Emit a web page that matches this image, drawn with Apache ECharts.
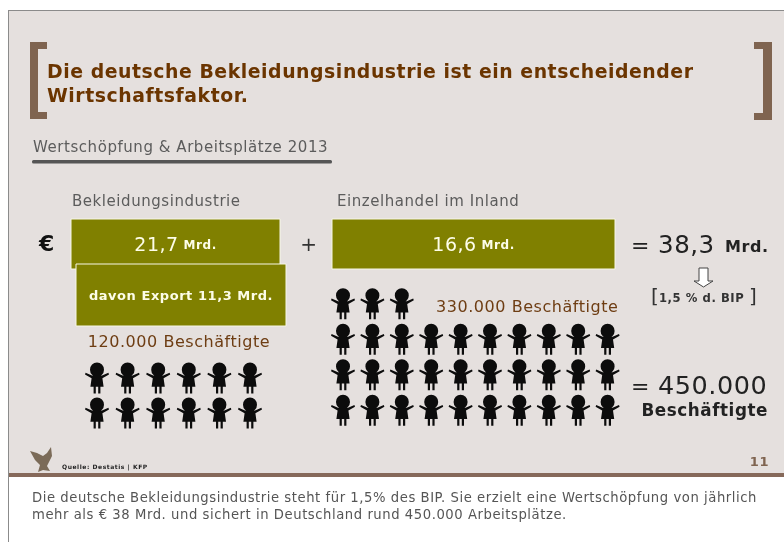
<!DOCTYPE html>
<html>
<head>
<meta charset="utf-8">
<title>Bekleidungsindustrie</title>
<style>
  html, body { margin: 0; padding: 0; background: #fff; }
  #chart { width: 784px; height: 542px; }
  #chart svg { filter: blur(0.3px); }
  #chart svg text { letter-spacing: 0.55px; }
</style>
<script src="https://cdn.jsdelivr.net/npm/echarts@6/dist/echarts.min.js"></script>
</head>
<body>
<div id="chart"></div>
<script>
// Werte aus der Grafik (Mrd. Euro)
const industrieWert = 21.7;
const exportWert = 11.3;
const handelWert = 16.6;

// Figuren je Reihe, eine Figur = 10.000 Beschäftigte
const industrieReihen = [6, 6];
const handelReihen = [3, 10, 10, 10];

const titelZeilen = [
  'Die deutsche Bekleidungsindustrie ist ein entscheidender',
  'Wirtschaftsfaktor.'
];
const fussText = [
  'Die deutsche Bekleidungsindustrie steht für 1,5% des BIP. Sie erzielt eine Wertschöpfung von jährlich',
  'mehr als € 38 Mrd. und sichert in Deutschland rund 450.000 Arbeitsplätze.'
];

const FONT = '"DejaVu Sans", Verdana, sans-serif';
const OLIV = '#808000';
const BRAUN = '#7f6450';
const TITELBRAUN = '#6b3500';
const FIGUR = 'path://M5 7a7 7 0 1 1 14 0a7 7 0 1 1-14 0z'
  + 'M7 12.5L17 12.5L23.4 10L24 11.6L17.4 15.2L18.6 23.5L15.4 23.5L15.4 30L13.2 30L13.2 23.5'
  + 'L10.8 23.5L10.8 30L8.6 30L8.6 23.5L5.4 23.5L6.6 15.2L0 11.6L.6 10z';

function fmt(v) {
  return String(v).replace('.', ',');
}

function figuren(reihen) {
  const punkte = [];
  reihen.forEach((anzahl, r) => {
    for (let c = 0; c < anzahl; c++) punkte.push([c, r]);
  });
  return punkte;
}

function text(x, y, inhalt, size, fill, weight, align) {
  return {
    type: 'text', z: 20,
    style: {
      x, y, text: inhalt, fill,
      font: (weight || 'normal') + ' ' + size + 'px ' + FONT,
      textAlign: align || 'left', textVerticalAlign: 'middle'
    }
  };
}

function rect(x, y, w, h, fill, z) {
  return { type: 'rect', z: z || 1, shape: { x, y, width: w, height: h }, style: { fill } };
}

const deko = [
  // Folie
  rect(8, 10, 776, 532, '#8b8b8b', 0),
  rect(9, 11, 775, 463, '#e5e0de'),
  rect(9, 474, 775, 68, '#ffffff'),
  rect(9, 473, 775, 4, '#86695a', 2),
  // Klammern
  rect(30, 42, 8, 77, BRAUN), rect(30, 42, 17, 7, BRAUN), rect(30, 112, 17, 7, BRAUN),
  rect(763, 42, 9, 78, BRAUN), rect(754, 42, 18, 7, BRAUN), rect(754, 113, 18, 7, BRAUN),
  text(47, 71, titelZeilen[0], 18.85, TITELBRAUN, 'bold'),
  text(47, 95, titelZeilen[1], 18.85, TITELBRAUN, 'bold'),
  text(33, 147, 'Wertschöpfung & Arbeitsplätze 2013', 15, '#5c5c5c'),
  { type: 'rect', z: 2, shape: { x: 32, y: 160, width: 300, height: 3.5, r: 1.5 }, style: { fill: '#555555' } },
  text(72, 201, 'Bekleidungsindustrie', 15, '#5c5c5c'),
  text(337, 201, 'Einzelhandel im Inland', 15, '#5c5c5c'),
  text(47, 243, '€', 22, '#111111', 'bold', 'center'),
  text(309, 244, '+', 20, '#333333', 'normal', 'center'),
  text(631, 245, '=', 22, '#222222'),
  text(658, 244, '38,3', 24.5, '#222222'),
  text(725, 246, 'Mrd.', 16, '#222222', 'bold'),
  // Pfeil
  {
    type: 'polygon', z: 3,
    shape: { points: [[699, 268], [708, 268], [708, 281], [713, 281], [703.5, 287], [694, 281], [699, 281]] },
    style: { fill: '#ffffff', stroke: '#444444', lineWidth: 1 }
  },
  text(651, 296, '[', 20, '#333333', 'normal'),
  text(659, 298, '1,5 % d. BIP', 11.6, '#333333', 'bold'),
  text(749, 296, ']', 20, '#333333', 'normal'),
  text(179, 341, '120.000 Beschäftigte', 16, '#6e3d13', 'normal', 'center'),
  text(436, 306, '330.000 Beschäftigte', 16, '#6e3d13'),
  text(631, 386, '=', 22, '#222222'),
  text(658, 385, '450.000', 25.5, '#222222'),
  text(768, 410, 'Beschäftigte', 16.8, '#222222', 'bold', 'right'),
  // Logo und Quelle
  {
    type: 'polygon', z: 3,
    shape: { points: [[30, 451], [37, 453], [43, 456], [47, 453], [51, 447], [52, 456], [49, 462], [47, 466], [50, 471], [43, 470], [38, 472], [40, 465], [35, 460]] },
    style: { fill: '#7b6b58' }
  },
  text(62, 466, 'Quelle: Destatis | KFP', 6, '#222222', 'bold'),
  text(769, 461, '11', 13, BRAUN, 'bold', 'right'),
  text(32, 497, fussText[0], 13.2, '#555555'),
  text(32, 514, fussText[1], 13.2, '#555555')
];

function kastenSerie(index, wert, z, formatter) {
  return {
    type: 'bar', xAxisIndex: index, yAxisIndex: index, z,
    data: [wert], barWidth: '100%', silent: true,
    itemStyle: { color: OLIV, borderColor: '#f7f7e6', borderWidth: 1 },
    label: { show: true, position: 'inside', formatter, rich: wertRich, fontFamily: FONT }
  };
}

function figurSerie(index, reihen) {
  return {
    type: 'scatter', xAxisIndex: index, yAxisIndex: index, z: 5, silent: true,
    data: figuren(reihen),
    symbol: FIGUR, symbolSize: [24, 31],
    itemStyle: { color: '#0c0c0c', opacity: 1 }
  };
}

const wertRich = {
  zahl: { color: '#fdfde8', fontSize: 19, fontFamily: FONT },
  einheit: { color: '#fdfde8', fontSize: 12, fontWeight: 'bold', fontFamily: FONT, padding: [2, 0, 0, 7] },
  lang: { color: '#fdfde8', fontSize: 13, fontWeight: 'bold', fontFamily: FONT }
};

const wertLabel = p => '{zahl|' + fmt(p.value) + '}{einheit|Mrd.}';
const exportLabel = p => '{lang|davon Export ' + fmt(p.value) + ' Mrd.}';

const werte = [industrieWert, exportWert, handelWert];
const grids = [
  { left: 70.5, top: 218.5, width: 210, height: 51 },
  { left: 75.5, top: 263.5, width: 211, height: 63 },
  { left: 331.5, top: 218.5, width: 284, height: 51 },
  { left: 81.7, top: 360.5, width: 183.6, height: 70 },
  { left: 328.3, top: 286, width: 294, height: 142 }
];

const xAchsen = werte.map((w, i) => ({ type: 'value', gridIndex: i, show: false, min: 0, max: w }));
xAchsen.push({ type: 'value', gridIndex: 3, show: false, min: -0.5, max: 5.5 });
xAchsen.push({ type: 'value', gridIndex: 4, show: false, min: -0.5, max: 9.5 });

const yAchsen = werte.map((w, i) => ({ type: 'category', gridIndex: i, show: false, data: [''] }));
yAchsen.push({ type: 'value', gridIndex: 3, show: false, inverse: true, min: -0.5, max: 1.5 });
yAchsen.push({ type: 'value', gridIndex: 4, show: false, inverse: true, min: -0.5, max: 3.5 });

const chart = echarts.init(document.getElementById('chart'), null, { renderer: 'svg' });
chart.setOption({
  animation: false,
  tooltip: { show: false },
  graphic: deko,
  grid: grids,
  xAxis: xAchsen,
  yAxis: yAchsen,
  series: [
    kastenSerie(0, industrieWert, 5, wertLabel),
    kastenSerie(1, exportWert, 8, exportLabel),
    kastenSerie(2, handelWert, 5, wertLabel),
    figurSerie(3, industrieReihen),
    figurSerie(4, handelReihen)
  ]
});
</script>
</body>
</html>
